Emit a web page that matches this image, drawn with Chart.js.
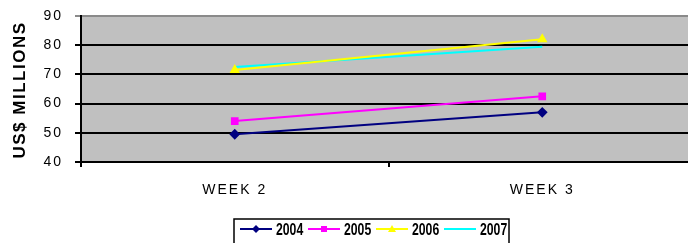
<!DOCTYPE html>
<html>
<head>
<meta charset="utf-8">
<script src="https://cdn.jsdelivr.net/npm/chart.js@4"></script>
<style>
  html, body { margin: 0; padding: 0; background: #fff; overflow: hidden; }
  #wrap { width: 688px; height: 243px; overflow: hidden; }
</style>
</head>
<body>
<div id="wrap"><canvas id="lineChart" width="702" height="243"></canvas></div>
<script>
// chart data
const weeks = ["WEEK 2", "WEEK 3"];
const seriesLabels = ["2004", "2005", "2006", "2007"];
const values2004 = [49.5, 57];
const values2005 = [54, 62.5];
const values2006 = [71.5, 82];
const values2007 = [72.5, 79.5];
const yTicks = [40, 50, 60, 70, 80, 90];
const yTitle = "US$ MILLIONS";

const colors = ["#000080", "#ff00ff", "#ffff00", "#00ffff"];
const markers = ["rectRot", "rect", "triangle", "line"];
const allValues = [values2004, values2005, values2006, values2007];

// rotated axis title, drawn by hand so the letters can be spaced out
const axisTitle = {
  id: "axisTitle",
  afterDraw(chart) {
    const ctx = chart.ctx;
    const a = chart.chartArea;
    ctx.save();
    ctx.translate(20, (a.top + a.bottom) / 2 + 1);
    ctx.rotate(-Math.PI / 2);
    ctx.font = "bold 17px Arial, 'Liberation Sans'";
    ctx.letterSpacing = "1.5px";
    ctx.fillStyle = "#000";
    ctx.textAlign = "center";
    ctx.textBaseline = "middle";
    ctx.fillText(yTitle, 0, 0);
    ctx.restore();
  }
};

// draws the boxed legend under the axis, like the old Excel one
const boxLegend = {
  id: "boxLegend",
  afterDraw(chart) {
    const ctx = chart.ctx;
    const left = 234, top = 219, width = 275, height = 30;
    ctx.save();
    ctx.letterSpacing = "0px";
    ctx.strokeStyle = "#000";
    ctx.lineWidth = 1.5;
    ctx.strokeRect(left, top, width, height);
    const y = top + 10;
    chart.data.datasets.forEach((ds, i) => {
      const x = left + 6 + i * 68;
      ctx.strokeStyle = ds.borderColor;
      ctx.lineWidth = 2;
      ctx.beginPath();
      ctx.moveTo(x, y);
      ctx.lineTo(x + 32, y);
      ctx.stroke();
      ctx.fillStyle = ds.borderColor;
      ctx.beginPath();
      if (i === 0) {
        ctx.moveTo(x + 16, y - 4); ctx.lineTo(x + 20, y); ctx.lineTo(x + 16, y + 4); ctx.lineTo(x + 12, y);
      } else if (i === 1) {
        ctx.rect(x + 13, y - 3, 6, 6);
      } else if (i === 2) {
        ctx.moveTo(x + 16, y - 4); ctx.lineTo(x + 20, y + 3); ctx.lineTo(x + 12, y + 3);
      }
      ctx.fill();
      // narrow tall digits: squeeze a bold face horizontally
      ctx.save();
      ctx.translate(x + 36, y + 1);
      ctx.scale(0.72, 1);
      ctx.font = "bold 17px Arial, 'Liberation Sans'";
      ctx.fillStyle = "#000";
      ctx.textBaseline = "middle";
      ctx.fillText(ds.label, 0, 0);
      ctx.restore();
    });
    ctx.restore();
  }
};

const ctx = document.getElementById("lineChart").getContext("2d");
const lineChart = new Chart(ctx, {
  type: "line",
  data: {
    labels: weeks,
    datasets: seriesLabels.map((label, i) => ({
      label: label,
      data: allValues[i],
      borderColor: colors[i],
      backgroundColor: colors[i],
      borderWidth: 2,
      pointStyle: markers[i],
      pointRadius: i === 3 ? 0 : 4,
      tension: 0
    }))
  },
  options: {
    responsive: false,
    animation: false,
    layout: { padding: { top: 16, right: 0, left: 0, bottom: 0 } },
    plugins: {
      legend: { display: false },
      tooltip: { enabled: false },
      title: { display: false }
    },
    scales: {
      x: {
        offset: true,
        grid: {
          offset: true,
          drawOnChartArea: false, // only small tick marks below the axis
          drawTicks: true,
          tickLength: 5,
          color: "#000",
          lineWidth: 2
        },
        border: { color: "#000", width: 2 },
        ticks: {
          color: "#000",
          padding: 15,
          font: { family: "Arial, 'Liberation Sans'", size: 14 }
        },
        afterFit(scale) { scale.height = 81; }
      },
      y: {
        min: 40,
        max: 90,
        afterBuildTicks(scale) { scale.ticks = yTicks.map(v => ({ value: v })); },
        grid: {
          color: (c) => (c.tick && c.tick.value === 90 ? "#8a8a8a" : "#000"),
          lineWidth: 2,
          tickLength: 6
        },
        border: { color: "#000", width: 2 },
        ticks: {
          color: "#000",
          padding: 12,
          font: { family: "Arial, 'Liberation Sans'", size: 14, lineHeight: 0.9 }
        },
        afterFit(scale) {
          scale.width = 81;
          scale.paddingTop = 0;
          scale.paddingBottom = 0;
        }
      }
    }
  },
  plugins: [
    {
      id: "plotBg",
      beforeDraw(chart) {
        const a = chart.chartArea;
        chart.ctx.save();
        chart.ctx.fillStyle = "#c0c0c0";
        chart.ctx.fillRect(a.left, a.top, a.right - a.left, a.bottom - a.top);
        chart.ctx.restore();
        // spaced lettering for the axis labels
        chart.ctx.letterSpacing = "2px";
      }
    },
    axisTitle,
    boxLegend
  ]
});
</script>
</body>
</html>
